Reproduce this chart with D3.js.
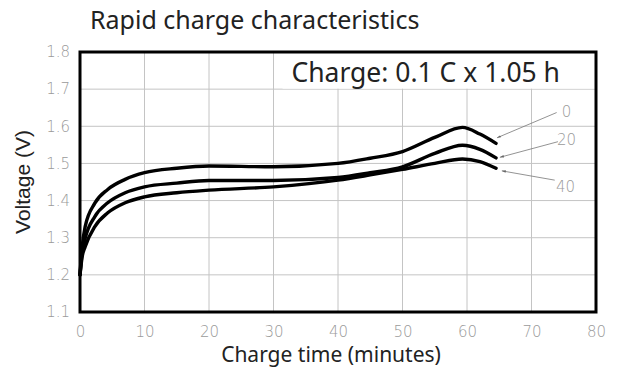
<!DOCTYPE html>
<html><head><meta charset="utf-8">
<script src="https://cdn.jsdelivr.net/npm/d3@7"></script>
<style>
html,body{margin:0;padding:0;background:#fff;}
svg{display:block;}
</style></head>
<body>
<svg id="c" width="626" height="372"></svg>
<script>
const times   = [0, 0.3, 0.8, 2.3, 4.3, 7, 10, 15, 20, 30, 40, 45, 50, 55, 59.3, 62, 64.5];
const temp0   = [1.2, 1.27, 1.33, 1.393, 1.43, 1.457, 1.475, 1.487, 1.493, 1.491, 1.500, 1.514, 1.532, 1.570, 1.597, 1.579, 1.554];
const temp20  = [1.2, 1.255, 1.298, 1.357, 1.394, 1.421, 1.437, 1.447, 1.454, 1.454, 1.462, 1.475, 1.491, 1.527, 1.549, 1.538, 1.515];
const temp40  = [1.2, 1.245, 1.276, 1.33, 1.367, 1.394, 1.41, 1.421, 1.428, 1.437, 1.455, 1.469, 1.484, 1.500, 1.512, 1.505, 1.487];
const seriesNames = ["0", "20", "40"];
const xTicks = [0, 10, 20, 30, 40, 50, 60, 70, 80];
const yTicks = [1.1, 1.2, 1.3, 1.4, 1.5, 1.6, 1.7, 1.8];
// leader annotations (data coords): curve end, far end, label anchor
const leaderFrom = [[64.65, 1.569], [65.1, 1.5165], [65.4, 1.480]];
const leaderTo   = [[73.9, 1.637], [74.1, 1.5585], [73.6, 1.455]];
const labelPos   = [[74.7, 1.6385], [73.95, 1.563], [73.8, 1.4366]];

const svg = d3.select("#c");
const L = 80, R = 596, T = 52, B = 312;
const x = d3.scaleLinear().domain([0, 80]).range([L, R]);
const y = d3.scaleLinear().domain([1.1, 1.8]).range([B, T]);

// grid
const grid = svg.append("g");
grid.selectAll(".gx").data(xTicks.slice(1, -1)).enter().append("line")
  .attr("x1", d => x(d)).attr("x2", d => x(d)).attr("y1", T).attr("y2", B)
  .attr("stroke", "#c4c4c4").attr("stroke-width", 1);
grid.selectAll(".gy").data(yTicks.slice(1, -1)).enter().append("line")
  .attr("x1", L).attr("x2", R).attr("y1", d => y(d)).attr("y2", d => y(d))
  .attr("stroke", "#c4c4c4").attr("stroke-width", 1);

// label box covering grid
const boxText = "Charge: 0.1 C x 1.05 h";
svg.append("rect").attr("x", x(31.4)).attr("y", T).attr("width", R - x(31.4)).attr("height", y(1.7) - T - 0.5)
  .attr("fill", "#fff");

// axes (tick labels via d3 axes)
const tickFont = "'DejaVu Sans', sans-serif";
const ax = svg.append("g").attr("transform", `translate(0,${B})`)
  .call(d3.axisBottom(x).tickValues(xTicks).tickSize(0).tickPadding(14).tickFormat(d3.format("d")));
const ay = svg.append("g").attr("transform", `translate(${L},0)`)
  .call(d3.axisLeft(y).tickValues(yTicks).tickSize(0).tickPadding(10).tickFormat(d3.format(".1f")));
[ax, ay].forEach(a => {
  a.select(".domain").remove();
  a.selectAll("text").attr("fill", "#9a9a9a").style("font-family", tickFont)
    .style("font-weight", "200").style("font-size", "15px");
});

// curves
const line = d3.line().x(d => x(d[0])).y(d => y(d[1])).curve(d3.curveMonotoneX);
[temp0, temp20, temp40].forEach(vals => {
  svg.append("path").datum(times.map((t, i) => [t, vals[i]]))
    .attr("d", line).attr("fill", "none").attr("stroke", "#000")
    .attr("stroke-width", 3.4).attr("stroke-linecap", "round");
});

// leaders
svg.append("defs").append("marker").attr("id", "ah").attr("viewBox", "0 0 10 10")
  .attr("refX", 10).attr("refY", 5).attr("markerWidth", 5).attr("markerHeight", 5).attr("orient", "auto")
  .append("path").attr("d", "M0,2 L10,5 L0,8 Z").attr("fill", "#666");
seriesNames.forEach((n, i) => {
  svg.append("line")
    .attr("x1", x(leaderTo[i][0])).attr("y1", y(leaderTo[i][1]))
    .attr("x2", x(leaderFrom[i][0])).attr("y2", y(leaderFrom[i][1]))
    .attr("stroke", "#777").attr("stroke-width", 0.8).attr("marker-end", "url(#ah)");
  svg.append("text").attr("x", x(labelPos[i][0])).attr("y", y(labelPos[i][1]))
    .attr("dy", "0.35em").attr("fill", "#9a9a9a").style("font-family", tickFont)
    .style("font-weight", "200").style("font-size", "15px").text(n);
});

// frame
svg.append("rect").attr("x", L).attr("y", T).attr("width", R - L).attr("height", B - T)
  .attr("fill", "none").attr("stroke", "#000").attr("stroke-width", 3);

const mainFont = "'Noto Sans', 'Open Sans', sans-serif";
svg.append("text").attr("x", 560).attr("y", 82).attr("text-anchor", "end")
  .style("font-family", mainFont).style("font-size", "26.5px").attr("fill", "#222").text(boxText);

svg.append("text").attr("x", 90).attr("y", 29)
  .style("font-family", mainFont).style("font-size", "25px").attr("fill", "#222").text("Rapid charge characteristics");
svg.append("text").attr("x", 331).attr("y", 362).attr("text-anchor", "middle")
  .style("font-family", mainFont).style("font-size", "21px").attr("fill", "#222").text("Charge time (minutes)");
svg.append("text").attr("transform", `translate(30,${(T + B) / 2}) rotate(-90)`).attr("text-anchor", "middle")
  .style("font-family", "'Liberation Sans', Arial, sans-serif").style("font-size", "21px").attr("fill", "#222").text("Voltage (V)");
</script>
</body></html>
